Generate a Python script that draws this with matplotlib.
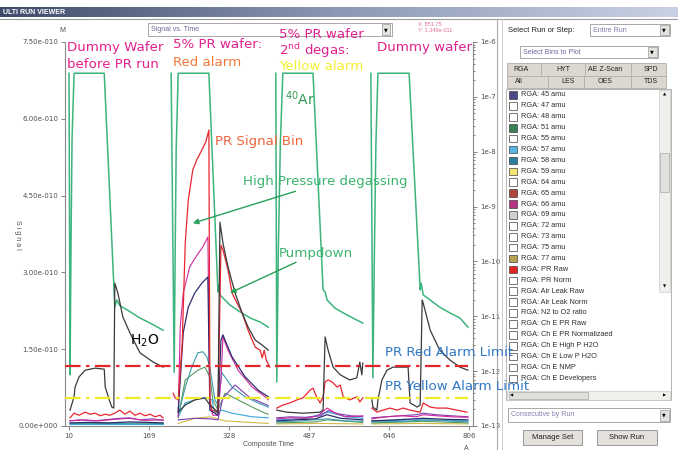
import numpy as np
import matplotlib.pyplot as plt
from matplotlib.patches import Rectangle
from matplotlib.colors import LinearSegmentedColormap
from matplotlib.ticker import FixedLocator, FixedFormatter, LogLocator, NullFormatter

W, H = 678, 450

# composite time / signal (x 1e-10), one sub-list per run
ar_x = [[10, 12, 14, 16, 20, 80, 101, 105, 111, 125, 151, 175, 197],
        [213, 219, 221, 223, 227, 288, 306, 308, 310, 330, 350, 370, 390, 406],
        [421, 423, 426, 430, 435, 495, 515, 519, 523, 539, 555, 574, 594],
        [610, 614, 617, 620, 624, 686, 708, 710, 714, 728, 747, 767, 787, 803]]
ar_y = [[6.89, 1.00, 3.6, 5.6, 6.89, 6.89, 2.32, 2.46, 2.35, 2.27, 2.11, 1.99, 1.87],
        [6.89, 1.05, 3.4, 5.4, 6.89, 6.89, 2.62, 2.75, 2.56, 2.36, 2.23, 2.11, 2.03, 1.93],
        [6.89, 0.86, 3.4, 5.5, 6.89, 6.89, 2.66, 2.62, 2.46, 2.30, 2.21, 2.11, 2.01],
        [6.89, 0.94, 3.4, 5.5, 6.89, 6.89, 2.66, 2.79, 2.56, 2.46, 2.32, 2.21, 2.11, 1.93]]

h2o_x = [[12, 20, 22, 30, 42, 62, 80, 82, 90, 95, 99, 101, 107, 117, 131, 151, 177, 197],
         [227, 241, 260, 280, 290, 306, 310, 316, 326, 340, 354, 366, 380, 394, 406],
         [423, 443, 475, 509, 515, 519, 525, 535, 549, 568, 582, 588, 592, 594],
         [612, 614, 622, 624, 632, 642, 654, 668, 684, 688, 702, 708, 712, 714, 728, 747, 767, 787, 803]]
h2o_y = [[0.31, 0.57, 0.76, 0.96, 1.09, 1.13, 1.11, 0.76, 0.51, 0.37, 0.35, 2.79, 2.60, 2.13, 1.82, 1.43, 1.25, 1.15],
         [0.27, 0.41, 0.51, 0.55, 0.41, 0.27, 3.98, 3.57, 3.11, 2.60, 2.21, 1.93, 1.68, 1.58, 1.48],
         [0.31, 0.27, 0.25, 0.27, 0.31, 1.74, 1.48, 1.15, 1.00, 0.90, 0.94, 1.25, 1.00, 1.23],
         [0.51, 0.37, 0.31, 0.51, 0.90, 1.09, 1.15, 1.15, 1.15, 0.45, 0.37, 0.41, 2.46, 2.40, 1.87, 1.48, 1.29, 1.15, 1.09]]

pr_x = [[12, 20, 30, 42, 52, 62, 72, 82, 91, 101, 111, 121, 131, 141, 151, 161, 171, 181, 191, 197],
        [217, 221, 227, 235, 241, 247, 256, 264, 274, 282, 288, 290, 294, 306, 312, 316, 326, 334, 344, 354,
         366, 380, 390, 394, 398, 402, 409],
        [423, 435, 449, 463, 475, 489, 495, 503, 509, 515, 519, 525, 533, 543, 549, 555, 568, 582, 588, 594],
        [612, 622, 634, 648, 662, 674, 688, 708, 714, 728, 741, 761, 781, 801]]
pr_y = [[0.16, 0.25, 0.21, 0.27, 0.23, 0.25, 0.20, 0.23, 0.21, 0.25, 0.31, 0.23, 0.29, 0.21, 0.25, 0.20, 0.23, 0.18, 0.21, 0.16],
        [0.64, 0.55, 0.51, 1.62, 3.57, 4.41, 5.00, 5.20, 5.39, 5.55, 5.78, 0.51, 0.31, 0.27, 3.53, 3.44, 3.05, 2.60, 2.40, 2.21,
         1.87, 1.54, 1.48, 1.33, 1.48, 1.29, 1.15],
        [0.35, 0.41, 0.45, 0.51, 0.55, 0.70, 0.74, 0.55, 0.45, 0.57, 0.86, 0.90, 0.86, 0.76, 0.80, 0.57, 0.51, 0.57, 0.47, 0.55],
        [0.35, 0.27, 0.31, 0.35, 0.31, 0.35, 0.31, 0.27, 0.45, 0.37, 0.35, 0.35, 0.31, 0.27]]

mag_x = [[12, 40, 70, 100, 130, 160, 197],
         [227, 231, 237, 250, 262, 276, 286, 290, 296, 306, 312, 316, 326, 346, 374, 400, 406],
         [423, 450, 480, 505, 523, 540, 560, 594],
         [612, 640, 670, 700, 714, 740, 770, 803]]
mag_y = [[0.10, 0.12, 0.10, 0.13, 0.15, 0.11, 0.12],
         [0.18, 1.93, 2.60, 3.11, 3.30, 3.50, 3.69, 0.41, 0.21, 0.21, 0.90, 1.74, 1.48, 1.09, 0.76, 0.57, 0.51],
         [0.14, 0.16, 0.15, 0.20, 0.35, 0.25, 0.18, 0.20],
         [0.14, 0.18, 0.20, 0.18, 0.22, 0.20, 0.18, 0.17]]

navy_x = [[12, 50, 90, 130, 170, 197],
          [227, 237, 247, 260, 274, 286, 290, 306, 312, 316, 320, 334, 360, 386, 406],
          [423, 460, 500, 523, 550, 594],
          [612, 660, 714, 760, 803]]
navy_y = [[0.06, 0.07, 0.06, 0.08, 0.07, 0.06],
          [0.27, 1.82, 2.32, 2.60, 2.79, 2.91, 0.31, 0.21, 1.68, 1.78, 1.68, 1.35, 0.96, 0.70, 0.57],
          [0.10, 0.12, 0.14, 0.22, 0.15, 0.12],
          [0.10, 0.12, 0.15, 0.13, 0.12]]

teal_x = [[12, 60, 110, 160, 197],
          [227, 241, 254, 266, 276, 284, 290, 296, 300, 306, 314, 334, 360, 386, 406],
          [423, 470, 523, 560, 594],
          [612, 680, 714, 760, 803]]
teal_y = [[0.05, 0.06, 0.05, 0.06, 0.05],
          [0.21, 0.76, 1.15, 1.43, 1.45, 1.35, 1.15, 0.76, 0.51, 0.41, 1.04, 0.76, 0.57, 0.45, 0.37],
          [0.08, 0.10, 0.14, 0.10, 0.09],
          [0.08, 0.09, 0.12, 0.10, 0.08]]

olive_x = [[12, 80, 140, 197],
           [227, 241, 266, 280, 290, 296, 306, 320, 346, 374, 400, 406],
           [423, 500, 523, 594],
           [612, 714, 803]]
olive_y = [[0.04, 0.05, 0.04, 0.05],
           [0.16, 0.90, 1.09, 1.15, 0.96, 0.51, 0.31, 0.64, 0.51, 0.37, 0.25, 0.23],
           [0.06, 0.08, 0.12, 0.07],
           [0.06, 0.09, 0.06]]

sky_x = [[12, 197],
         [227, 241, 260, 280, 294, 300, 314, 334, 374, 406],
         [423, 480, 525, 560, 594],
         [612, 700, 803]]
sky_y = [[0.03, 0.03],
         [0.18, 0.45, 0.51, 0.55, 0.51, 0.25, 0.31, 0.25, 0.18, 0.16],
         [0.12, 0.15, 0.27, 0.18, 0.15],
         [0.10, 0.12, 0.10]]

purp_x = [[12, 30, 60, 90, 110, 130, 150, 175, 197],
          [227, 260, 290, 306, 316, 340, 370, 406],
          [423, 450, 480, 510, 525, 545, 570, 594],
          [612, 640, 670, 700, 714, 740, 770, 803]]
purp_y = [[0.10, 0.12, 0.10, 0.13, 0.15, 0.16, 0.12, 0.14, 0.11],
          [0.12, 0.15, 0.14, 0.12, 0.55, 0.80, 0.55, 0.40],
          [0.16, 0.18, 0.17, 0.20, 0.30, 0.24, 0.20, 0.18],
          [0.16, 0.18, 0.20, 0.22, 0.25, 0.22, 0.20, 0.18]]

gold_x = [[12, 100, 197],
          [227, 260, 290, 320, 370, 406],
          [423, 510, 594],
          [612, 710, 803]]
gold_y = [[0.03, 0.04, 0.03],
          [0.05, 0.15, 0.18, 0.10, 0.07, 0.05],
          [0.04, 0.05, 0.04],
          [0.04, 0.05, 0.04]]

red_limit = 1.17e-10
yellow_limit = 0.55e-10

x_ticks = [10, 169, 328, 487, 646, 806]
y_ticks = [0, 1.5e-10, 3.0e-10, 4.5e-10, 6.0e-10, 7.5e-10]
y_labels = ["0.00e+000", "1.50e-010", "3.00e-010", "4.50e-010", "6.00e-010", "7.50e-010"]
log_ticks = [1e-13, 1e-12, 1e-11, 1e-10, 1e-9, 1e-8, 1e-7, 1e-6]
log_labels = ["1e-13", "1e-12", "1e-11", "1e-10", "1e-9", "1e-8", "1e-7", "1e-6"]

bins = ["RGA: 45 amu", "RGA: 47 amu", "RGA: 48 amu", "RGA: 51 amu", "RGA: 55 amu", "RGA: 57 amu",
        "RGA: 58 amu", "RGA: 59 amu", "RGA: 64 amu", "RGA: 65 amu", "RGA: 66 amu", "RGA: 69 amu",
        "RGA: 72 amu", "RGA: 73 amu", "RGA: 75 amu", "RGA: 77 amu", "RGA: PR Raw", "RGA: PR Norm",
        "RGA: Air Leak Raw", "RGA: Air Leak Norm", "RGA: N2 to O2 ratio", "RGA: Ch E PR Raw",
        "RGA: Ch E PR Normalizaed", "RGA: Ch E High P H2O", "RGA: Ch E Low P H2O", "RGA: Ch E NMP",
        "RGA: Ch E Developers"]
bin_colors = ["#4b4a86", "white", "white", "#3c7e55", "white", "#5ab4e4", "#2a7d9c", "#f2e470",
              "white", "#b0443c", "#b43584", "#cfcfcf", "white", "white", "white", "#b8a352",
              "#e42424", "white", "white", "white", "white", "white", "white", "white", "white",
              "white", "white"]

fig = plt.figure(figsize=(W / 100, H / 100), dpi=100)
fig.patch.set_facecolor("white")


def fx(px):
    return px / W


def fy(py):
    return 1 - py / H


def ptext(px, py, s, **kw):
    fig.text(fx(px), fy(py), s, **kw)


def prect(x0, y0, x1, y1, **kw):
    fig.add_artist(Rectangle((fx(x0), fy(y1)), (x1 - x0) / W, (y1 - y0) / H,
                             transform=fig.transFigure, **kw))


def pline(xs, ys, **kw):
    fig.add_artist(plt.Line2D([fx(v) for v in xs], [fy(v) for v in ys],
                              transform=fig.transFigure, **kw))


def dropdown(x0, y0, x1, y1, label, color="#6a6a9a"):
    prect(x0, y0, x1, y1, facecolor="white", edgecolor="#9a9a9a", lw=0.6)
    prect(x1 - 10, y0 + 1.5, x1 - 1.5, y1 - 1.5, facecolor="#e4e2de", edgecolor="#9a9a9a", lw=0.5)
    ptext(x1 - 5.8, (y0 + y1) / 2, "\u25bc", fontsize=3.5, ha="center", va="center", color="black")
    ptext(x0 + 3, (y0 + y1) / 2, label, fontsize=5, ha="left", va="center", color=color,
          family="Liberation Sans")


# title bar
bar = fig.add_axes([0, fy(17), 1, 10 / H])
cmap = LinearSegmentedColormap.from_list("bar", ["#3e4b6c", "#8c98b4", "#c9d2e4"])
bar.imshow(np.linspace(0, 1, 256)[None, :], aspect="auto", cmap=cmap, extent=[0, 1, 0, 1])
bar.axis("off")
ptext(3, 12, "ULTI RUN VIEWER", fontsize=5, color="white", weight="bold", va="center",
      family="Liberation Sans")
pline([0, 678], [18.5, 18.5], color="#9a9aa0", lw=0.8)
pline([497, 497], [19, 450], color="#a8a8a8", lw=0.8)
pline([502, 502], [19, 450], color="#c8c8c8", lw=0.6)

# main chart
ax = fig.add_axes([fx(65), fy(426), (473 - 65) / W, (426 - 42) / H])
run_style = [(ar_x, ar_y, "#3db47c", 1.1), (gold_x, gold_y, "#d2ba48", 0.8),
             (olive_x, olive_y, "#579a5e", 0.8), (sky_x, sky_y, "#38a8dc", 0.8),
             (teal_x, teal_y, "#3a9ca8", 0.8), (purp_x, purp_y, "#7a3fb2", 0.8),
             (mag_x, mag_y, "#d2269c", 0.8), (navy_x, navy_y, "#2c2d6e", 0.9),
             (pr_x, pr_y, "#e8262e", 0.9), (h2o_x, h2o_y, "#3a3a3a", 0.9)]
for xs, ys, col, lw in run_style:
    for rx, ry in zip(xs, ys):
        ax.plot(rx, np.array(ry) * 1e-10, color=col, lw=lw)

ax.axhline(red_limit, xmax=(803 - 2) / 811, color="#e2262a", lw=1.6, ls=(0, (7, 2.5, 1.5, 2.5)), zorder=5)
ax.axhline(yellow_limit, xmax=(803 - 2) / 811, color="#f0ea2a", lw=1.6, ls=(0, (7, 2.5, 1.5, 2.5)), zorder=5)

ax.set_xlim(2, 813)
ax.set_ylim(0, 7.5e-10)
ax.xaxis.set_major_locator(FixedLocator(x_ticks))
ax.yaxis.set_major_locator(FixedLocator(y_ticks))
ax.yaxis.set_major_formatter(FixedFormatter(y_labels))
ax.tick_params(labelsize=5, colors="#707070", labelcolor="#505050", length=3, width=0.6, pad=2)
for s in ["left", "bottom", "right"]:
    ax.spines[s].set_color("#8a8a8a")
    ax.spines[s].set_linewidth(0.8)
ax.spines["top"].set_visible(False)

ax2 = ax.twinx()
ax2.set_yscale("log")
ax2.set_ylim(1e-13, 1e-6)
ax2.yaxis.set_major_locator(FixedLocator(log_ticks))
ax2.yaxis.set_major_formatter(FixedFormatter(log_labels))
ax2.yaxis.set_minor_locator(LogLocator(base=10, subs=np.arange(2, 10)))
ax2.yaxis.set_minor_formatter(NullFormatter())
ax2.tick_params(which="both", labelsize=5, colors="#707070", labelcolor="#505050", width=0.6, pad=2)
ax2.tick_params(which="major", length=3)
ax2.tick_params(which="minor", length=1.5)
for s in ax2.spines.values():
    s.set_visible(False)

# axis texts
ptext(62, 30, "M", fontsize=5, color="#505050", ha="center", va="center", family="Liberation Sans")
ptext(17, 235, "S i g n a l", fontsize=5, color="#505050", rotation=270, ha="center", va="center",
      family="Liberation Sans")
ptext(268, 445, "Composite Time", fontsize=5, color="#505050", ha="center", va="center",
      family="Liberation Sans")
ptext(466, 448, "A", fontsize=5, color="#505050", ha="center", va="center", family="Liberation Sans")
dropdown(148, 23, 392, 36, "Signal vs. Time")
ptext(418, 24, "X: 851.75", fontsize=4, color="#e07090", va="center", family="Liberation Sans")
ptext(418, 31, "Y: 1.349e-011", fontsize=4, color="#e07090", va="center", family="Liberation Sans")

# annotations
fs = 9.6
mag = "#e2208e"
ptext(67, 48, "Dummy Wafer", fontsize=fs, color=mag, va="center")
ptext(67, 65, "before PR run", fontsize=fs, color=mag, va="center")
ptext(173, 45, "5% PR wafer:", fontsize=fs, color=mag, va="center")
ptext(173, 62, "Red alarm", fontsize=fs, color="#f07a3a", va="center")
ptext(279, 35, "5% PR wafer", fontsize=fs, color=mag, va="center")
ptext(279, 51, "2$^{\\mathrm{nd}}$ degas:", fontsize=fs, color=mag, va="center")
ptext(279, 67, "Yellow alarm", fontsize=fs, color="#f4f02c", va="center")
ptext(377, 47, "Dummy wafer", fontsize=fs, color=mag, va="center")
ptext(285, 99, "$^{40}$Ar", fontsize=10, color="#2e9a52", va="center")
ptext(215, 141, "PR Signal Bin", fontsize=fs, color="#f0643c", va="center")
ptext(130, 341, "H$_2$O", fontsize=10, color="black", va="center")
ptext(385, 353, "PR Red Alarm Limit", fontsize=fs, color="#2f78c4", va="center")
ptext(385, 387, "PR Yellow Alarm Limit", fontsize=fs, color="#2f78c4", va="center")

green = "#3cb46e"
ax.annotate("High Pressure degassing", xy=(256, 3.96e-10), xytext=(fx(243), fy(182)),
            textcoords="figure fraction", fontsize=fs, color=green, va="center", ha="left",
            arrowprops=dict(arrowstyle="-|>", color="#2aa05a", lw=1.0, mutation_scale=8,
                            shrinkA=0, shrinkB=0))
ax.annotate("Pumpdown", xy=(330, 2.60e-10), xytext=(fx(279), fy(253)),
            textcoords="figure fraction", fontsize=fs, color=green, va="center", ha="left",
            arrowprops=dict(arrowstyle="-|>", color="#2aa05a", lw=1.0, mutation_scale=8,
                            shrinkA=0, shrinkB=0))

# right panel
ptext(508, 30, "Select Run or Step:", fontsize=5.5, color="#202020", va="center", family="Liberation Sans")
dropdown(590, 24, 670, 36, "Entire Run", color="#7a7ab0")
dropdown(520, 46, 658, 58, "Select Bins to Plot", color="#6a6aa0")
prect(507, 63, 666, 88, facecolor="#dcd8d0", edgecolor="#b0aca4", lw=0.6)
for lab, cx in zip(["RGA", "HYT", "AE Z-Scan", "SPD"], [521, 563, 605, 651]):
    ptext(cx, 69.5, lab, fontsize=5, color="#202020", ha="center", va="center", family="Liberation Sans")
for lab, cx in zip(["All", "LES", "OES", "TDS"], [519, 568, 605, 651]):
    ptext(cx, 81.5, lab, fontsize=5, color="#202020", ha="center", va="center", family="Liberation Sans")
for sx in [541, 585, 631]:
    pline([sx, sx], [64, 75], color="#a8a49c", lw=0.5)
for sx in [548, 584, 631]:
    pline([sx, sx], [76, 87], color="#a8a49c", lw=0.5)
pline([507, 666], [75.5, 75.5], color="#a8a49c", lw=0.5)

prect(506, 89, 671, 400, facecolor="white", edgecolor="#a8a8a8", lw=0.6)
for i, (name, col) in enumerate(zip(bins, bin_colors)):
    yy = 95 + i * 10.9
    prect(509, yy - 3.8, 517, yy + 3.8, facecolor=col, edgecolor="#404040", lw=0.5)
    ptext(521, yy, name, fontsize=5.3, color="#303030", va="center", family="Liberation Sans")

# scrollbars
prect(659, 90, 670, 292, facecolor="#f0efec", edgecolor="#c0c0c0", lw=0.4)
prect(660, 153, 669, 192, facecolor="#e2e0dc", edgecolor="#a8a8a8", lw=0.5)
ptext(664.5, 95, "\u25b2", fontsize=3, ha="center", va="center")
ptext(664.5, 287, "\u25bc", fontsize=3, ha="center", va="center")
prect(507, 391, 670, 400, facecolor="#f0efec", edgecolor="#c0c0c0", lw=0.4)
prect(509, 392, 588, 399, facecolor="#e2e0dc", edgecolor="#a8a8a8", lw=0.5)
ptext(512, 395.5, "\u25c0", fontsize=3, ha="center", va="center")
ptext(665, 395.5, "\u25b6", fontsize=3, ha="center", va="center")

dropdown(508, 408, 670, 422, "Consecutive by Run", color="#8080b0")
prect(523, 430, 582, 445, facecolor="#e4e1dc", edgecolor="#8a8a8a", lw=0.6)
ptext(552.5, 437.5, "Manage Set", fontsize=5.5, ha="center", va="center", color="#202020",
      family="Liberation Sans")
prect(597, 430, 657, 445, facecolor="#e4e1dc", edgecolor="#8a8a8a", lw=0.6)
ptext(627, 437.5, "Show Run", fontsize=5.5, ha="center", va="center", color="#202020",
      family="Liberation Sans")

fig.savefig("out.png", dpi=100)
